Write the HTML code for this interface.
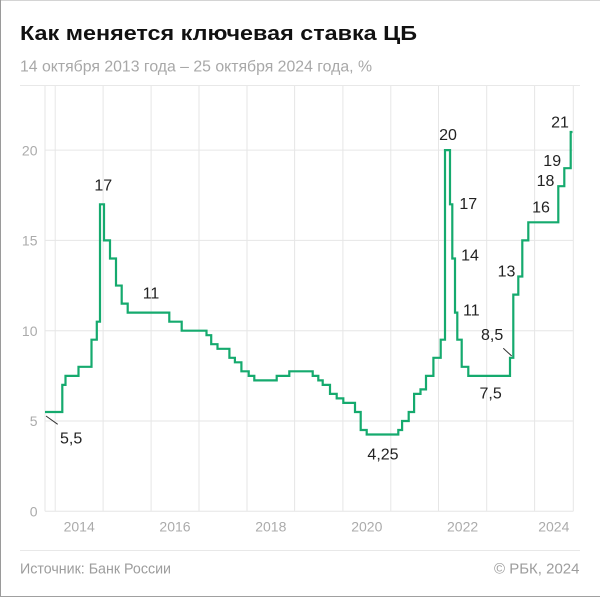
<!DOCTYPE html>
<html>
<head>
<meta charset="utf-8">
<style>
  html, body { margin: 0; padding: 0; background: #ffffff; }
  body { width: 600px; height: 597px; overflow: hidden; }
  svg { display: block; }
  text { font-family: "Liberation Sans", "Noto Sans CJK SC", sans-serif; }
</style>
</head>
<body>
<svg width="600" height="597" viewBox="0 0 600 597" xmlns="http://www.w3.org/2000/svg">
  <rect x="0" y="0" width="600" height="597" fill="#ffffff"/>
  <!-- borders -->
  <line x1="0" y1="0.5" x2="600" y2="0.5" stroke="#d4d4d4" stroke-width="1"/>
  <line x1="0.5" y1="0" x2="0.5" y2="597" stroke="#9a9a9a" stroke-width="1"/>
  <line x1="0" y1="596.5" x2="600" y2="596.5" stroke="#a0a0a0" stroke-width="1"/>

  <!-- title -->
  <text x="20" y="40" font-size="20" font-weight="bold" fill="#111111" textLength="397" lengthAdjust="spacingAndGlyphs">Как меняется ключевая ставка ЦБ</text>
  <text x="20" y="71.5" font-size="16" fill="#a8a8a8" textLength="352" lengthAdjust="spacingAndGlyphs">14 октября 2013 года – 25 октября 2024 года, %</text>

  <!-- separators -->
  <line x1="20" y1="85.5" x2="580" y2="85.5" stroke="#e8e8e8" stroke-width="1"/>
  <line x1="20" y1="550.5" x2="580" y2="550.5" stroke="#e8e8e8" stroke-width="1"/>

  <!-- vertical gridlines -->
  <g stroke="#e6e6e6" stroke-width="1">
    <line x1="45" y1="86" x2="45" y2="511.3"/>
    <line x1="55.2" y1="86" x2="55.2" y2="511.3"/>
    <line x1="103.1" y1="86" x2="103.1" y2="511.3"/>
    <line x1="151.1" y1="86" x2="151.1" y2="511.3"/>
    <line x1="199" y1="86" x2="199" y2="511.3"/>
    <line x1="247" y1="86" x2="247" y2="511.3"/>
    <line x1="294.6" y1="86" x2="294.6" y2="511.3"/>
    <line x1="342.9" y1="86" x2="342.9" y2="511.3"/>
    <line x1="390.8" y1="86" x2="390.8" y2="511.3"/>
    <line x1="438.5" y1="86" x2="438.5" y2="511.3"/>
    <line x1="486.7" y1="86" x2="486.7" y2="511.3"/>
    <line x1="534.6" y1="86" x2="534.6" y2="511.3"/>
    <line x1="573.3" y1="86" x2="573.3" y2="511.3"/>
  </g>
  <!-- horizontal gridlines -->
  <g stroke="#e6e6e6" stroke-width="1">
    <line x1="45" y1="150.1" x2="573.3" y2="150.1"/>
    <line x1="45" y1="240.4" x2="573.3" y2="240.4"/>
    <line x1="45" y1="330.7" x2="573.3" y2="330.7"/>
    <line x1="45" y1="421" x2="573.3" y2="421"/>
    <line x1="45" y1="511.3" x2="573.3" y2="511.3"/>
  </g>

  <!-- y labels -->
  <g font-size="14" fill="#ababab" text-anchor="end">
    <text x="37.5" y="155.3">20</text>
    <text x="37.5" y="245.6">15</text>
    <text x="37.5" y="335.9">10</text>
    <text x="37.5" y="426.2">5</text>
    <text x="37.5" y="516.5">0</text>
  </g>
  <!-- x labels -->
  <g font-size="14" fill="#ababab" text-anchor="middle">
    <text x="79.2" y="531.7">2014</text>
    <text x="175" y="531.7">2016</text>
    <text x="270.8" y="531.7">2018</text>
    <text x="366.8" y="531.7">2020</text>
    <text x="462.6" y="531.7">2022</text>
    <text x="553.8" y="531.7">2024</text>
  </g>

  <!-- series -->
  <path d="M45,412 H62.3 V384.9 H65.5 V375.85 H78.5 V366.8 H91.5 V339.7 H96.8 V321.7 H100 V204.3 H104 V240.4 H110 V258.5 H116 V285.55 H121.7 V303.6 H127.7 V312.6 H169.3 V321.7 H181.7 V330.7 H206.5 V335.2 H211.2 V344.2 H217.5 V348.8 H229.4 V357.8 H234.9 V362.3 H241.4 V371.3 H248.7 V375.85 H254.3 V380.4 H276.7 V375.85 H289.3 V371.3 H312.7 V375.85 H318.3 V380.4 H322.7 V384.9 H330 V393.9 H336.7 V398.4 H343.3 V402.9 H355 V412 H360.7 V430 H366.7 V434.5 H398.3 V430 H402.1 V421 H408.7 V412 H414.1 V393.9 H420.5 V389.4 H426 V375.85 H433.4 V357.8 H440.7 V339.7 H445 V150.1 H450 V204.3 H452.3 V258.5 H455 V312.6 H457.3 V339.7 H461.7 V366.8 H468.3 V375.85 H510 V357.8 H513.3 V294.6 H518.3 V276.5 H522.3 V240.4 H528.3 V222.3 H558.3 V186.2 H564.3 V168.2 H570.7 V132 H572.5"
        fill="none" stroke="#15aa6e" stroke-width="2.2" stroke-linejoin="miter" stroke-linecap="butt"/>

  <!-- leader lines -->
  <line x1="46" y1="416" x2="57.7" y2="424.3" stroke="#333333" stroke-width="1"/>
  <line x1="503.3" y1="348.3" x2="511.7" y2="356" stroke="#333333" stroke-width="1"/>

  <!-- annotations -->
  <g font-size="16" fill="#222222">
    <text x="103.3" y="190.7" text-anchor="middle">17</text>
    <text x="151" y="298.3" text-anchor="middle">11</text>
    <text x="60" y="443.3">5,5</text>
    <text x="383" y="459.3" text-anchor="middle">4,25</text>
    <text x="448" y="140" text-anchor="middle">20</text>
    <text x="468.3" y="209" text-anchor="middle">17</text>
    <text x="470" y="260.5" text-anchor="middle">14</text>
    <text x="471.3" y="315.3" text-anchor="middle">11</text>
    <text x="481" y="340">8,5</text>
    <text x="479.5" y="398.3">7,5</text>
    <text x="506.5" y="276.7" text-anchor="middle">13</text>
    <text x="541" y="212.7" text-anchor="middle">16</text>
    <text x="545.5" y="186" text-anchor="middle">18</text>
    <text x="552.2" y="166" text-anchor="middle">19</text>
    <text x="560" y="127.3" text-anchor="middle">21</text>
  </g>

  <!-- footer -->
  <text x="20" y="573.3" font-size="15" fill="#9d9d9d" textLength="151" lengthAdjust="spacingAndGlyphs">Источник: Банк России</text>
  <text x="579.5" y="573.3" font-size="15" fill="#9d9d9d" text-anchor="end">© РБК, 2024</text>
</svg>
</body>
</html>
